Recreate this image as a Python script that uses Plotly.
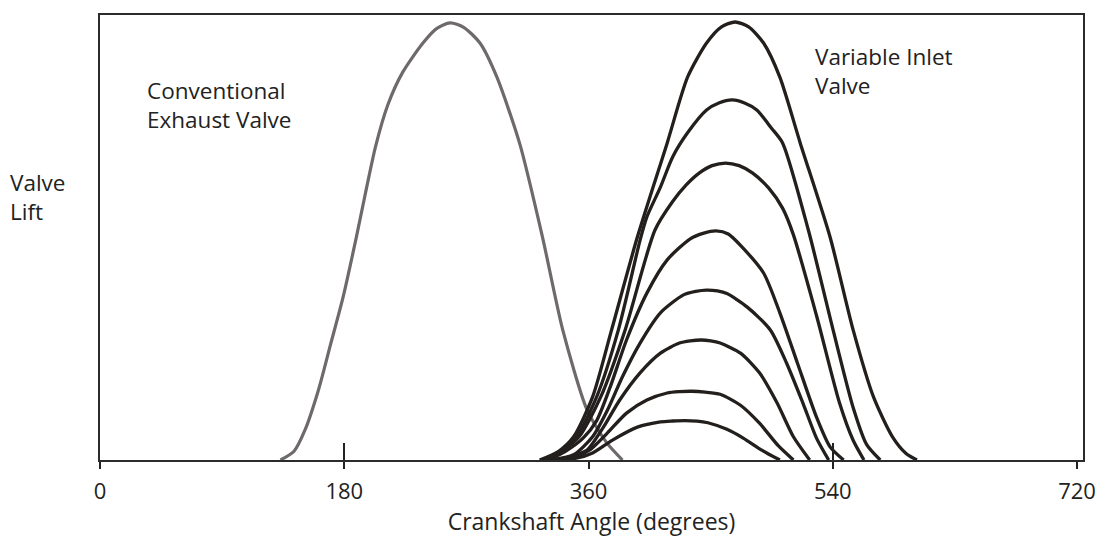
import plotly.graph_objects as go

# ---- data (crank angle in degrees, valve lift normalised) ----
EXH_X = [133, 143, 151, 161, 170, 179, 189, 195, 203, 212, 223, 238, 248, 258, 268, 280, 292.5, 309.5, 326, 341, 359, 373.5, 385]
EXH_Y = [0, 0.02, 0.068, 0.16, 0.265, 0.37, 0.51, 0.60, 0.715, 0.81, 0.885, 0.952, 0.985, 0.998, 0.988, 0.952, 0.874, 0.72, 0.51, 0.297, 0.114, 0.039, 0]

IN1_X = [324, 338, 349, 363, 377, 396, 418, 433, 447, 458, 468, 478, 489, 501, 516, 538, 555, 570, 584, 594, 602]
IN1_Y = [0, 0.02, 0.053, 0.144, 0.297, 0.509, 0.724, 0.874, 0.952, 0.989, 1.0, 0.989, 0.952, 0.874, 0.724, 0.509, 0.297, 0.144, 0.053, 0.015, 0]

IN2_X = [326, 339, 351, 366, 382, 398, 403, 413, 422, 433, 447, 456, 466, 475, 484, 495, 503, 522, 540, 555, 565, 575]
IN2_Y = [0, 0.02, 0.053, 0.144, 0.297, 0.502, 0.555, 0.623, 0.692, 0.747, 0.799, 0.815, 0.822, 0.815, 0.799, 0.757, 0.724, 0.525, 0.30, 0.12, 0.035, 0]

IN3_X = [327, 340, 353, 369, 387, 409, 422, 432, 442, 451, 461, 471, 481, 493, 503, 511, 528, 545, 555, 563]
IN3_Y = [0, 0.02, 0.053, 0.144, 0.297, 0.525, 0.59, 0.628, 0.656, 0.672, 0.678, 0.672, 0.655, 0.62, 0.575, 0.514, 0.33, 0.13, 0.045, 0]

IN4_X = [330, 343, 356, 366, 376, 388, 403, 418, 435, 445, 454, 463, 472, 489, 501, 514, 528, 538, 548]
IN4_Y = [0, 0.02, 0.05, 0.09, 0.167, 0.274, 0.381, 0.457, 0.505, 0.518, 0.523, 0.516, 0.49, 0.427, 0.336, 0.221, 0.098, 0.03, 0]

IN5_X = [332, 349, 363, 374, 385, 398, 413, 430, 439, 447, 455, 462, 477, 494, 506, 518, 528, 537]
IN5_Y = [0, 0.012, 0.053, 0.114, 0.19, 0.267, 0.336, 0.377, 0.385, 0.388, 0.386, 0.38, 0.349, 0.297, 0.221, 0.13, 0.05, 0]

IN6_X = [334, 347, 359, 371, 383, 398, 413, 427, 435, 443, 450, 457, 472, 486, 499, 511, 523]
IN6_Y = [0, 0.008, 0.023, 0.075, 0.137, 0.199, 0.244, 0.267, 0.272, 0.274, 0.272, 0.267, 0.244, 0.199, 0.13, 0.053, 0]

IN7_X = [336, 349, 361, 374, 388, 403, 418, 427, 436, 446, 457, 472, 486, 500, 511]
IN7_Y = [0, 0.006, 0.023, 0.062, 0.107, 0.137, 0.153, 0.156, 0.157, 0.155, 0.15, 0.125, 0.084, 0.032, 0]

IN8_X = [338, 351, 363, 378, 396, 413, 422, 431, 440, 448, 462, 474, 488, 501]
IN8_Y = [0, 0.004, 0.016, 0.046, 0.075, 0.087, 0.089, 0.09, 0.089, 0.085, 0.07, 0.05, 0.022, 0]

TICK_VALS = [0, 180, 360, 540, 720]
TICK_TEXT = ["0", "180", "360", "540", "720"]
LONG_TICKS = [180, 540]

INLETS = [(IN1_X, IN1_Y), (IN2_X, IN2_Y), (IN3_X, IN3_Y), (IN4_X, IN4_Y),
          (IN5_X, IN5_Y), (IN6_X, IN6_Y), (IN7_X, IN7_Y), (IN8_X, IN8_Y)]

FONT = "Open Sans, Noto Sans, sans-serif"
INK = "#231f1d"
TXT = "#222222"

fig = go.Figure()

fig.add_trace(go.Scatter(x=EXH_X, y=EXH_Y, mode="lines",
                         line=dict(color="#6e696a", width=3.2, shape="spline", smoothing=0.7),
                         hoverinfo="skip", showlegend=False))
for xs, ys in INLETS:
    fig.add_trace(go.Scatter(x=xs, y=ys, mode="lines",
                             line=dict(color=INK, width=3.3, shape="spline", smoothing=0.7),
                             hoverinfo="skip", showlegend=False))

# invisible trace to activate the overlay axis carrying the long ticks
fig.add_trace(go.Scatter(x=[0], y=[0], xaxis="x2", mode="markers",
                         marker=dict(opacity=0), hoverinfo="skip", showlegend=False))

fig.update_layout(
    width=1107, height=540,
    margin=dict(l=100, r=24, t=15, b=80),
    paper_bgcolor="white", plot_bgcolor="white",
    font=dict(family=FONT, color=TXT),
    xaxis=dict(range=[0, 724.4], tickvals=TICK_VALS, ticktext=TICK_TEXT,
               ticks="outside", ticklen=7, tickwidth=2, tickcolor="#222",
               showline=True, linecolor="#2b2b2b", linewidth=2, mirror=True,
               showgrid=False, zeroline=False,
               tickfont=dict(size=22, family=FONT, color=TXT),
               ticklabelstandoff=4,
               title=dict(text="Crankshaft Angle (degrees)", font=dict(size=23, family=FONT, color=TXT),
                          standoff=4)),
    xaxis2=dict(range=[0, 724.4], overlaying="x", anchor="y", side="bottom",
                tickvals=LONG_TICKS, ticks="inside", ticklen=17, tickwidth=2, tickcolor="#222",
                showticklabels=False, showline=False, showgrid=False, zeroline=False),
    yaxis=dict(range=[0, 1.016], showticklabels=False, ticks="",
               showline=True, linecolor="#2b2b2b", linewidth=2, mirror=True,
               showgrid=False, zeroline=False),
    annotations=[
        dict(text="Valve<br>Lift", xref="paper", yref="paper", x=-0.094, y=0.591,
             xanchor="left", yanchor="middle", align="left", showarrow=False,
             font=dict(size=22.5, family=FONT, color=TXT)),
        dict(text="Conventional<br>Exhaust Valve", xref="paper", yref="paper", x=0.046, y=0.797,
             xanchor="left", yanchor="middle", align="left", showarrow=False,
             font=dict(size=22.5, family=FONT, color=TXT)),
        dict(text="Variable Inlet<br>Valve", xref="paper", yref="paper", x=0.725, y=0.874,
             xanchor="left", yanchor="middle", align="left", showarrow=False,
             font=dict(size=22.5, family=FONT, color=TXT)),
    ],
)

fig.write_html("out.html", config={"displayModeBar": False},
               post_script="document.body.style.margin='0';")
